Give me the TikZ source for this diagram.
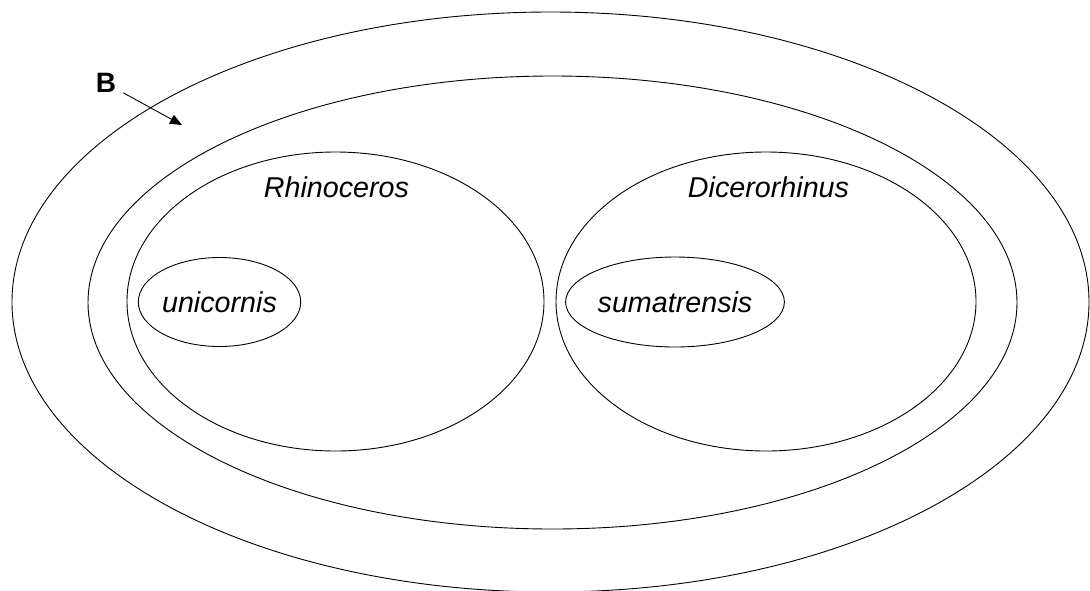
\documentclass[tikz,border=0pt]{standalone}
\usepackage{fontspec}
\setmainfont{Liberation Sans}
\usepackage{tikz}
\usetikzlibrary{shapes.geometric, arrows.meta}
\usetikzlibrary{positioning}
\tikzstyle{taxon} = [ellipse, draw=black, line width=0.9pt, inner sep=0pt]
\tikzstyle{taxname} = [font=\fontsize{28.7}{34}\selectfont\itshape, inner sep=0pt]
\tikzstyle{arrow} = [line width=0.9pt,-{Triangle[length=12pt,width=10pt]}]

\begin{document}
\begin{tikzpicture}[x=1pt, y=-1pt]
\useasboundingbox (0,0) rectangle (1090,590);
\node (family) [taxon, minimum width=1077pt, minimum height=580pt] at (550.5,302) {};
\node (groupb) [taxon, minimum width=929pt, minimum height=453pt] at (552.5,302.5) {};
\node (rhino) [taxon, minimum width=417pt, minimum height=299pt] at (335.5,301.5) {};
\node (dicero) [taxon, minimum width=420pt, minimum height=299pt] at (766,301.5) {};
\node (unicorn) [taxon, taxname, minimum width=160pt, minimum height=89pt] at (219.5,302) {unicornis};
\node (sumatra) [taxon, taxname, minimum width=193pt, minimum height=90pt] at (675,302) {sumatrensis};
\node (rhinolabel) [taxname] at (336.5,187.5) {Rhinoceros};
\node (dicerolabel) [taxname] at (768.5,187.5) {Dicerorhinus};
\node (blabel) [font=\fontsize{28}{34}\selectfont\bfseries, inner sep=0pt] at (106,83) {B};
\coordinate (bpoint) at (182,125);

\draw [arrow] ([xshift=7pt]blabel.south east) -- (bpoint);
\end{tikzpicture}
\end{document}
